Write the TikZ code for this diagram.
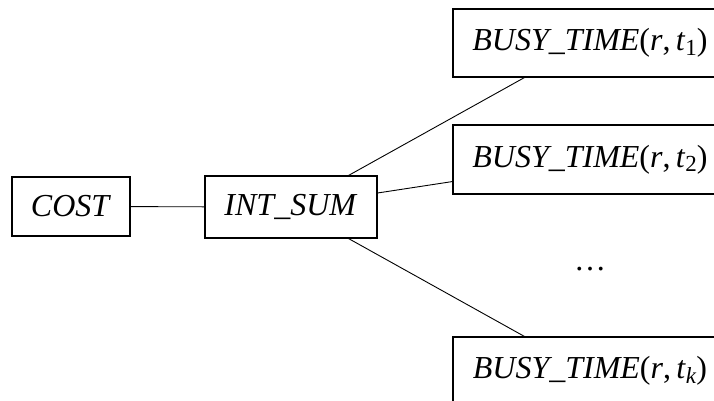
\documentclass[tikz,border=0pt]{standalone}
\usepackage{fontspec}
\setmainfont{Liberation Serif}
\usepackage{tikz}
\tikzset{box/.style={draw,line width=1.1pt,inner sep=0pt,font=\fontsize{32}{36}\selectfont},
         link/.style={line width=0.9pt}}
\newcommand{\busy}[1]{\textit{BUSY\_TIME}(\textit{r},\,\textit{t}\raisebox{-0.3ex}{\fontsize{23}{26}\selectfont #1})}
\begin{document}
\begin{tikzpicture}[x=1pt,y=-1pt]
\useasboundingbox(0,0) rectangle (714,401);
\node[box,minimum width=118pt,minimum height=59pt](cost) at (71,206.5){\textit{COST}};
\node[box,minimum width=172pt,minimum height=62pt](intsum) at (291,207){\textit{INT\_SUM}};
\node[box,minimum width=274pt,minimum height=68pt](b1) at (590,43){\busy{1}};
\node[box,minimum width=274pt,minimum height=69pt](b2) at (590,159.5){\busy{2}};
\node[box,minimum width=274pt,minimum height=68pt](bk) at (590,371){\busy{\textit{k}}};
\node[font=\fontsize{32}{36}\selectfont](dots) at (590,269){\dots};
\draw[link](cost)--(intsum);
\draw[link]([xshift=-29pt]intsum.north east)--([xshift=72pt]b1.south west);
\draw[link]([yshift=14pt]intsum.east)--([yshift=13pt]b2.south west);
\draw[link]([xshift=-29pt]intsum.south east)--([xshift=72pt]bk.north west);
\end{tikzpicture}
\end{document}
